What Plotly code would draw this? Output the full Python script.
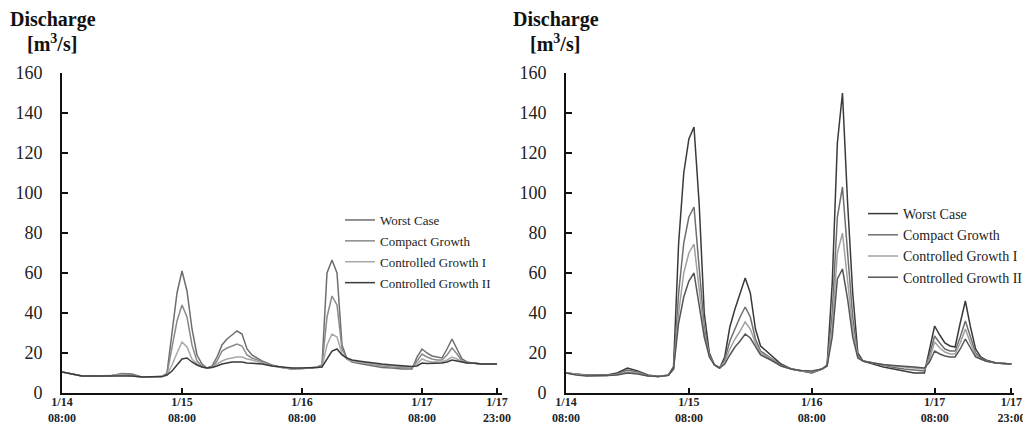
import plotly.graph_objects as go

# hours since 1/14 08:00
hours = [0, 2, 4, 6, 8, 10, 12, 14, 16, 18, 20, 21, 22, 23, 24, 25, 26, 27, 28, 29,
         30, 31, 32, 33, 34, 35, 36, 37, 38, 40, 42, 44, 46, 48, 50, 51, 52, 53, 54, 55,
         56, 57, 58, 60, 62, 64, 66, 68, 70, 71, 72, 73, 74, 75, 76, 77, 78, 79, 80, 81,
         82, 84, 87]

series_names = ["Worst Case", "Compact Growth", "Controlled Growth I", "Controlled Growth II"]

# ---- left panel ----
left_worst = [10.5, 9.5, 8.5, 8.5, 8.5, 8.8, 9.8, 9.5, 8.0, 8.0, 8.2, 10, 30, 50, 61, 51, 32, 19, 14.5, 12.5,
              13.5, 18, 24, 27, 29, 31, 29.5, 22, 19, 16, 14, 12.8, 12, 12.2, 12.5, 13, 14, 60, 66.5, 60,
              24, 17, 15.5, 14.5, 13.5, 12.8, 12.5, 12, 12, 18, 22, 20, 18.5, 18, 17.5, 22, 27, 22, 17, 15.5,
              15, 14.5, 14.5]
left_compact = [10.5, 9.5, 8.5, 8.5, 8.5, 8.8, 9.5, 9.0, 8.0, 8.0, 8.2, 9.5, 22, 36, 44, 38, 24, 16, 13.5, 12.5,
                13, 16, 21, 22.5, 23.5, 24.5, 23.5, 19, 17.5, 15.5, 13.8, 12.8, 12, 12.2, 12.5, 13, 13.5, 38, 48.5, 44,
                22, 17, 15.8, 15, 14, 13.5, 13, 12.8, 12.5, 16, 19.5, 18, 17, 16.5, 16.5, 19, 22.5, 19.5, 16, 15.2,
                15, 14.5, 14.5]
left_cg1 = [10.5, 9.5, 8.5, 8.5, 8.5, 8.8, 9.0, 8.5, 8.0, 8.0, 8.2, 9.0, 14, 20, 25.5, 23, 17, 14.5, 13, 12.5,
            12.8, 14.5, 16, 17, 17.5, 18, 18, 17, 16.5, 15, 13.5, 12.8, 12.2, 12.3, 12.5, 12.8, 13, 24, 29.5, 28,
            19.5, 17, 16, 15.2, 14.5, 14, 13.5, 13.2, 13, 14.5, 17, 16, 15.5, 15.5, 15.5, 16.5, 18, 17, 15.5, 15,
            15, 14.5, 14.5]
left_cg2 = [10.5, 9.5, 8.5, 8.5, 8.5, 8.8, 8.8, 8.5, 8.0, 8.0, 8.2, 9.0, 11, 14, 17, 17.5, 15.5, 14, 13, 12.5,
            12.8, 13.5, 14.5, 15, 15.5, 15.5, 15.5, 15, 14.8, 14.5, 13.5, 13, 12.5, 12.5, 12.5, 12.8, 13, 17, 21, 22,
            19, 17.5, 16.5, 15.8, 15, 14.5, 14, 13.5, 13.2, 13.5, 15, 14.8, 14.8, 14.8, 15, 15.5, 16.5, 16, 15.5, 15,
            15, 14.5, 14.5]

# ---- right panel ----
right_worst = [10, 9.5, 9, 9, 9, 10, 12.5, 11, 9, 8.2, 9, 13, 75, 110, 127, 133, 95, 40, 20, 14,
               12.5, 18, 33, 42, 50, 57.5, 50, 32, 23.5, 19, 14.5, 12, 11, 10, 12, 14, 55, 125, 150, 95,
               50, 20, 16, 14.5, 13, 12, 11, 10, 10, 22, 33.5, 29, 25, 23.5, 23, 35, 46, 33, 22, 18,
               16.5, 15, 14.5]
right_compact = [10, 9.3, 8.8, 8.8, 8.8, 9.5, 11.5, 10.5, 8.8, 8.2, 8.8, 12, 50, 75, 88, 93, 64, 33, 19, 14,
                 12.5, 16.5, 26, 32, 38, 43, 38, 27, 21, 17.5, 14, 12, 11, 10.5, 12, 14, 40, 88, 103, 70,
                 38, 19, 16, 15, 13.8, 12.8, 12, 11.5, 11, 19, 28.5, 25, 22, 21, 21, 28, 36, 28, 20, 17.5,
                 16, 15, 14.5]
right_cg1 = [10, 9.2, 8.7, 8.8, 8.8, 9.2, 10.5, 10, 8.5, 8.2, 8.8, 12, 40, 60, 70, 74.5, 53, 30, 18.5, 14,
             12.5, 15.5, 22, 27, 31, 35.5, 32, 25, 20, 17, 13.5, 12, 11, 10.5, 12, 13.5, 33, 70, 80, 57,
             32, 18, 16, 15, 14, 13.5, 13, 12.5, 12, 17, 25.5, 22.5, 20.5, 19.5, 19.5, 25, 32, 25, 19, 17,
             16, 15, 14.5]
right_cg2 = [10, 9, 8.5, 8.8, 8.8, 9, 10, 9.5, 8.5, 8.2, 8.8, 12, 35, 48, 56, 60, 45, 28, 18, 14,
             12.5, 14.5, 19, 23, 26, 29.5, 27.5, 23, 19, 16.5, 13.5, 12, 11.2, 11, 12, 13.5, 28, 57, 62, 47,
             28, 17.5, 16, 15, 14.2, 13.8, 13.5, 13, 12.5, 15.5, 21, 19.5, 18.5, 18, 18, 22, 27, 22.5, 18, 17,
             16, 15, 14.5]

tick_hours = [0, 24, 48, 72, 87]
tick_labels = ["1/14<br>08:00", "1/15<br>08:00", "1/16<br>08:00", "1/17<br>08:00", "1/17<br>23:00"]
y_ticks = [0, 20, 40, 60, 80, 100, 120, 140, 160]

left_colors = ["#6e6e6e", "#8a8a8a", "#a8a8a8", "#3a3a3a"]
right_colors = ["#3a3a3a", "#6e6e6e", "#a0a0a0", "#555555"]

FONT = "Liberation Serif"

# page body margin is removed by post_script; the figure is a bit wider than the
# 1023px window so the right-most labels are clipped by the window, as in the original
W, H = 1045, 432


def px(x):
    return x / W


def py(y):
    return 1 - y / H


fig = go.Figure()

for name, ys, col in zip(series_names, [left_worst, left_compact, left_cg1, left_cg2], left_colors):
    fig.add_trace(go.Scatter(x=hours, y=ys, mode="lines", name=name, legendgroup="L" + name,
                             line=dict(color=col, width=1.5), xaxis="x", yaxis="y",
                             legend="legend"))
for name, ys, col in zip(series_names, [right_worst, right_compact, right_cg1, right_cg2], right_colors):
    fig.add_trace(go.Scatter(x=hours, y=ys, mode="lines", name=name, legendgroup="R" + name,
                             line=dict(color=col, width=1.5), xaxis="x2", yaxis="y2",
                             legend="legend2"))

ydom = [py(393), py(73)]

xaxis_common = dict(range=[0, 88], tickmode="array", tickvals=tick_hours, ticktext=tick_labels,
                    ticks="inside", ticklen=5, tickwidth=1.5, tickcolor="#111",
                    showline=True, linecolor="#111", linewidth=2, showgrid=False, zeroline=False,
                    tickfont=dict(family=FONT, size=12, color="#222", weight="bold"),
                    ticklabelstandoff=-3, automargin=False)
yaxis_common = dict(range=[0, 160], tickmode="array", tickvals=y_ticks,
                    ticks="inside", ticklen=6, tickwidth=1.5, tickcolor="#111",
                    showline=True, linecolor="#111", linewidth=2, showgrid=False, zeroline=False,
                    tickfont=dict(family=FONT, size=18, color="#222"),
                    ticklabelstandoff=14, automargin=False)

fig.update_layout(
    width=W, height=H,
    margin=dict(l=0, r=0, t=0, b=0, autoexpand=False),
    plot_bgcolor="white", paper_bgcolor="white",
    xaxis=dict(domain=[px(62), px(502)], anchor="y", **xaxis_common),
    yaxis=dict(domain=ydom, anchor="x", **yaxis_common),
    xaxis2=dict(domain=[px(566), px(1014)], anchor="y2", **{**xaxis_common, "range": [0, 87.5]}),
    yaxis2=dict(domain=ydom, anchor="x2", **yaxis_common),
    legend=dict(x=px(340), y=py(205), xanchor="left", yanchor="top",
                font=dict(family=FONT, size=13, color="#222"), bgcolor="rgba(0,0,0,0)",
                itemwidth=30, tracegroupgap=1),
    legend2=dict(x=px(863), y=py(198), xanchor="left", yanchor="top",
                 font=dict(family=FONT, size=14, color="#222"), bgcolor="rgba(0,0,0,0)",
                 itemwidth=30, tracegroupgap=0),
    showlegend=True,
)

for x0 in [8, 511]:
    fig.add_annotation(x=px(x0), y=py(20), xref="paper", yref="paper", xanchor="left", yanchor="middle",
                       text="<b>Discharge</b>", showarrow=False,
                       font=dict(family=FONT, size=20, color="#111"))
    fig.add_annotation(x=px(x0 + 17), y=py(43), xref="paper", yref="paper", xanchor="left", yanchor="middle",
                       text="<b>[m<sup>3</sup>/s]</b>", showarrow=False,
                       font=dict(family=FONT, size=20, color="#111"))

fig.write_html("out.html",
               config={"displayModeBar": False},
               post_script="document.body.style.margin='0px';document.body.style.overflow='hidden';")
